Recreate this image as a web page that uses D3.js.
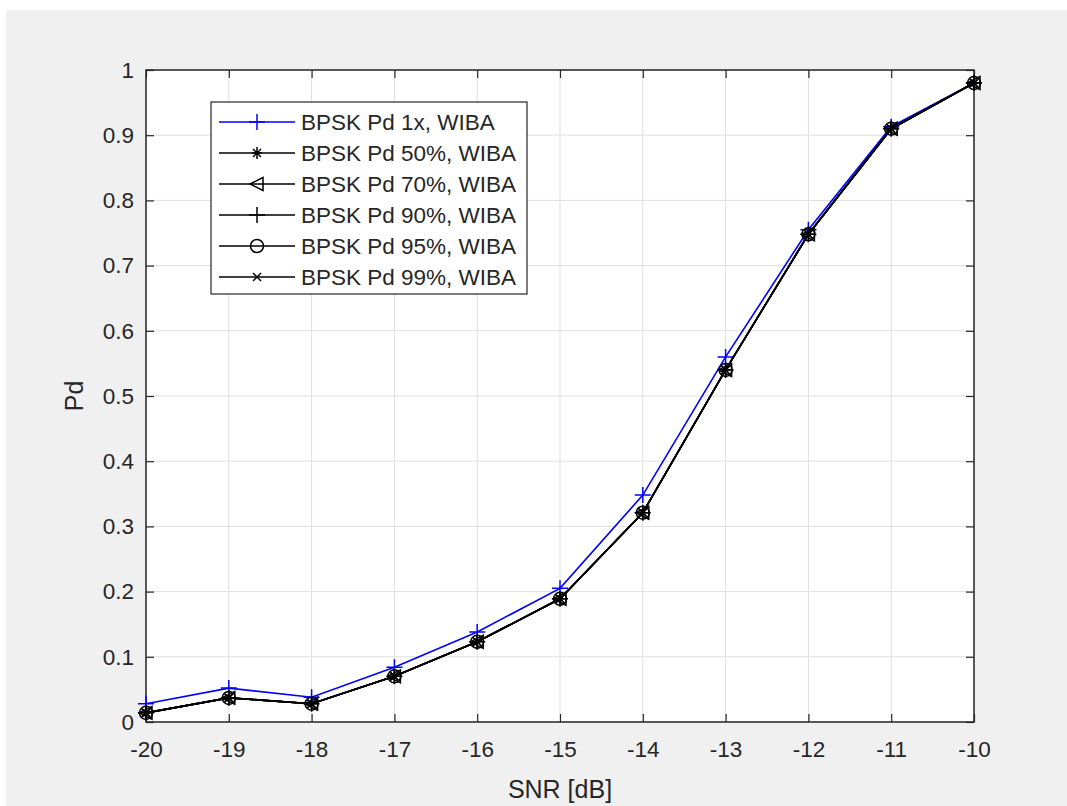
<!DOCTYPE html>
<html>
<head>
<meta charset="utf-8">
<script src="https://d3js.org/d3.v7.min.js"></script>
<style>
  body { margin: 0; background: #fff; }
  text { font-family: "Liberation Sans", Arial, sans-serif; fill: #262626; }
</style>
</head>
<body>
<svg id="chart" width="1067" height="806"></svg>
<script>
// Data
const snr = [-20, -19, -18, -17, -16, -15, -14, -13, -12, -11, -10];
const pd1x  = [0.028, 0.052, 0.038, 0.084, 0.138, 0.205, 0.348, 0.560, 0.755, 0.913, 0.980];
const pd50  = [0.014, 0.037, 0.028, 0.070, 0.123, 0.189, 0.321, 0.540, 0.748, 0.910, 0.980];
const pd70  = [0.014, 0.037, 0.028, 0.070, 0.123, 0.189, 0.321, 0.540, 0.748, 0.910, 0.980];
const pd90  = [0.014, 0.037, 0.028, 0.070, 0.123, 0.189, 0.321, 0.540, 0.748, 0.910, 0.980];
const pd95  = [0.014, 0.037, 0.028, 0.070, 0.123, 0.189, 0.321, 0.540, 0.748, 0.910, 0.980];
const pd99  = [0.014, 0.037, 0.028, 0.070, 0.123, 0.189, 0.321, 0.540, 0.748, 0.910, 0.980];
const xTicks = [-20, -19, -18, -17, -16, -15, -14, -13, -12, -11, -10];
const yTicks = [0, 0.1, 0.2, 0.3, 0.4, 0.5, 0.6, 0.7, 0.8, 0.9, 1];
const legendLabels = ['BPSK Pd 1x, WIBA', 'BPSK Pd 50%, WIBA', 'BPSK Pd 70%, WIBA',
  'BPSK Pd 90%, WIBA', 'BPSK Pd 95%, WIBA', 'BPSK Pd 99%, WIBA'];

const series = [
  { name: legendLabels[0], values: pd1x, color: '#0000ff', marker: 'plus' },
  { name: legendLabels[1], values: pd50, color: '#000000', marker: 'star' },
  { name: legendLabels[2], values: pd70, color: '#000000', marker: 'triangleLeft' },
  { name: legendLabels[3], values: pd90, color: '#000000', marker: 'plus' },
  { name: legendLabels[4], values: pd95, color: '#000000', marker: 'circle' },
  { name: legendLabels[5], values: pd99, color: '#000000', marker: 'cross' }
];

const svg = d3.select('#chart');
const axisColor = '#262626';
const plotLeft = 146, plotRight = 974, plotTop = 70, plotBottom = 722;

// figure background
svg.append('rect').attr('x', 6).attr('y', 10).attr('width', 1061).attr('height', 796).attr('fill', '#f0f0f0');

const x = d3.scaleLinear().domain([-20, -10]).range([plotLeft, plotRight]);
const y = d3.scaleLinear().domain([0, 1]).range([plotBottom, plotTop]);

svg.append('rect').attr('x', plotLeft).attr('y', plotTop)
  .attr('width', plotRight - plotLeft).attr('height', plotBottom - plotTop).attr('fill', '#fff');

// grid
const grid = svg.append('g').attr('stroke', '#dfdfdf').attr('stroke-width', 1);
xTicks.forEach(t => grid.append('line')
  .attr('x1', x(t)).attr('x2', x(t)).attr('y1', plotTop).attr('y2', plotBottom));
yTicks.forEach(t => grid.append('line')
  .attr('x1', plotLeft).attr('x2', plotRight).attr('y1', y(t)).attr('y2', y(t)));

// axes (ticks inside, on all four sides)
const tickLen = 8;
const axB = svg.append('g').attr('transform', `translate(0,${plotBottom})`)
  .call(d3.axisBottom(x).tickValues(xTicks).tickSizeInner(-tickLen).tickSizeOuter(0).tickPadding(19).tickFormat(d => String(d)));
const axT = svg.append('g').attr('transform', `translate(0,${plotTop})`)
  .call(d3.axisTop(x).tickValues(xTicks).tickSizeInner(-tickLen).tickSizeOuter(0).tickFormat(''));
const axL = svg.append('g').attr('transform', `translate(${plotLeft},0)`)
  .call(d3.axisLeft(y).tickValues(yTicks).tickSizeInner(-tickLen).tickSizeOuter(0).tickPadding(12).tickFormat(d => String(d)));
const axR = svg.append('g').attr('transform', `translate(${plotRight},0)`)
  .call(d3.axisRight(y).tickValues(yTicks).tickSizeInner(-tickLen).tickSizeOuter(0).tickFormat(''));
[axB, axT, axL, axR].forEach(a => {
  a.select('.domain').remove();
  a.selectAll('line').attr('stroke', axisColor).attr('stroke-width', 1.2);
  a.selectAll('text').attr('font-size', 22.5).attr('fill', axisColor)
    .attr('font-family', '"Liberation Sans", Arial, sans-serif');
});
axB.selectAll('text').attr('dy', '0.71em');
svg.append('rect').attr('x', plotLeft).attr('y', plotTop)
  .attr('width', plotRight - plotLeft).attr('height', plotBottom - plotTop)
  .attr('fill', 'none').attr('stroke', axisColor).attr('stroke-width', 1.5);

// axis labels
svg.append('text').attr('x', 560).attr('y', 798).attr('text-anchor', 'middle')
  .attr('font-size', 25).text('SNR [dB]');
svg.append('text').attr('transform', 'translate(83,396) rotate(-90)')
  .attr('text-anchor', 'middle').attr('font-size', 25).text('Pd');

// markers
function drawMarker(g, type, cx, cy, color) {
  const s = g.append('g').attr('transform', `translate(${cx},${cy})`)
    .attr('stroke', color).attr('stroke-width', 1.5).attr('fill', 'none');
  if (type === 'plus') {
    s.append('path').attr('d', 'M-8,0H8M0,-8V8');
  } else if (type === 'star') {
    s.append('path').attr('d', 'M-5,0H5M0,-6V6M-4,-4L4,4M-4,4L4,-4');
  } else if (type === 'triangleLeft') {
    s.append('path').attr('d', 'M-7,0L6,-6.5L6,6.5Z');
  } else if (type === 'circle') {
    s.append('circle').attr('r', 6.5);
  } else if (type === 'cross') {
    s.append('path').attr('d', 'M-4,-4L4,4M-4,4L4,-4');
  }
}

const line = d3.line().x((d, i) => x(snr[i])).y(d => y(d));
const plot = svg.append('g');
series.forEach(s => {
  plot.append('path').datum(s.values).attr('d', line)
    .attr('fill', 'none').attr('stroke', s.color).attr('stroke-width', 1.6);
  s.values.forEach((v, i) => drawMarker(plot, s.marker, x(snr[i]), y(v), s.color));
});

// legend
const lg = svg.append('g');
lg.append('rect').attr('x', 211).attr('y', 102).attr('width', 316).attr('height', 192)
  .attr('fill', '#fff').attr('stroke', axisColor).attr('stroke-width', 1.2);
series.forEach((s, i) => {
  const ry = 122 + i * 31;
  lg.append('line').attr('x1', 219).attr('x2', 295).attr('y1', ry).attr('y2', ry)
    .attr('stroke', s.color).attr('stroke-width', 1.6);
  drawMarker(lg, s.marker, 257, ry, s.color);
  lg.append('text').attr('x', 301).attr('y', ry + 8).attr('font-size', 22.5)
    .attr('fill', '#000').text(s.name);
});
</script>
</body>
</html>
